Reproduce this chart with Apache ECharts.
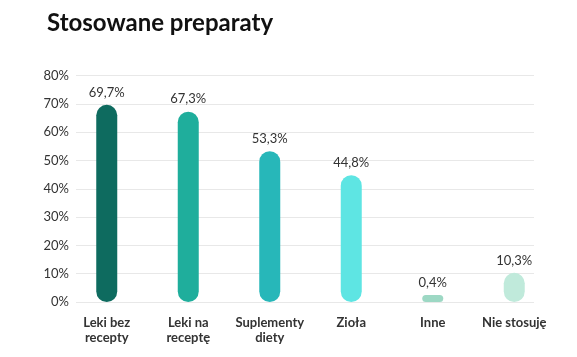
<!DOCTYPE html>
<html><head><meta charset="utf-8">
<script src="https://cdn.jsdelivr.net/npm/echarts@6/dist/echarts.min.js"></script>
<style>html,body{margin:0;padding:0;background:#fff}#c{width:577px;height:357px}</style>
</head><body><div id="c"></div>
<script>
const categories = ['Leki bez\nrecepty', 'Leki na\nreceptę', 'Suplementy\ndiety', 'Zioła', 'Inne', 'Nie stosuję'];
const values = [69.7, 67.3, 53.3, 44.8, 0.4, 10.3];
const colors = ['#0e6b5f', '#1fae9c', '#27b7b9', '#5ee5e3', '#9dd8c4', '#c0eadb'];
const yTicks = [0, 10, 20, 30, 40, 50, 60, 70, 80];

const chart = echarts.init(document.getElementById('c'), null, {renderer: 'canvas'});
const font = 'Lato';
chart.setOption({
  animation: false,
  title: {
    text: 'Stosowane preparaty', left: 42, top: 6,
    textStyle: {fontFamily: font, fontSize: 24, fontWeight: 'bold', color: '#111'}
  },
  grid: [
    {left: 76, right: 43, top: 75.7, bottom: 55, containLabel: false},
    {left: 66, right: 22, top: 75.7, bottom: 55, containLabel: false}
  ],
  xAxis: [
    {type: 'category', gridIndex: 0, data: categories, show: false},
    {type: 'category', gridIndex: 1, data: categories,
     axisLine: {show: false}, axisTick: {show: false},
     axisLabel: {interval: 0, margin: 13, fontFamily: font, fontSize: 13, fontWeight: 'bold', color: '#333', lineHeight: 15}}
  ],
  yAxis: [
    {type: 'value', gridIndex: 0, min: yTicks[0], max: yTicks[yTicks.length - 1], interval: 10,
     axisLine: {show: false}, axisTick: {show: false},
     splitLine: {lineStyle: {color: '#e8e8e8', width: 1}},
     axisLabel: {margin: 7, formatter: '{value}%', fontFamily: font, fontSize: 13, color: '#333'}},
    {type: 'value', gridIndex: 1, min: yTicks[0], max: yTicks[yTicks.length - 1], interval: 10, show: false}
  ],
  series: [{
    type: 'bar', xAxisIndex: 1, yAxisIndex: 1,
    data: values.map((v, i) => ({value: v, itemStyle: {color: colors[i]}})),
    barWidth: 21, barMinHeight: 7,
    itemStyle: {borderRadius: 10.5},
    label: {show: true, position: 'top', distance: 6,
      formatter: p => String(p.value).replace('.', ',') + '%',
      fontFamily: font, fontSize: 13, color: '#333'}
  }]
});
</script></body></html>
